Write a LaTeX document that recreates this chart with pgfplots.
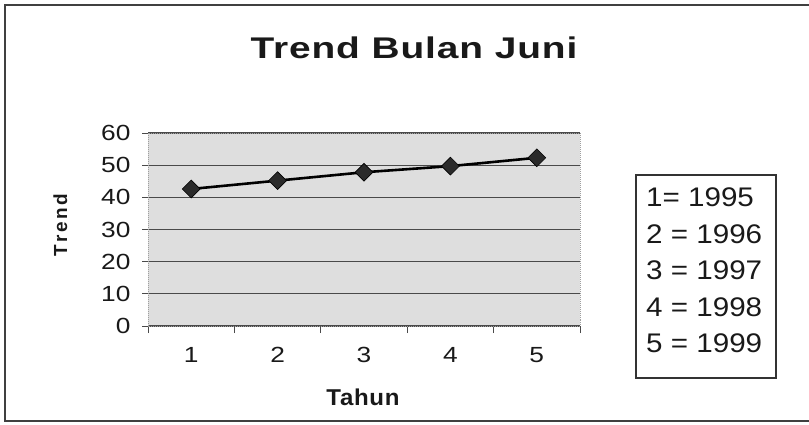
\documentclass[border=0pt]{standalone}
\usepackage{fontspec}
\setmainfont{Liberation Sans}
\newfontfamily\tickfont{Liberation Sans}[FakeStretch=1.2]
\newfontfamily\legfont{Liberation Sans}[FakeStretch=1.1]
\newfontfamily\titlefont{Liberation Sans}[FakeStretch=1.3,LetterSpace=3]
\newfontfamily\labfont{Liberation Sans}[FakeStretch=1.05,LetterSpace=3]
\newfontfamily\ylabfont{Liberation Sans}[LetterSpace=14]
\usepackage{pgfplots}
\pgfplotsset{compat=1.18}
\definecolor{bggray}{HTML}{DEDEDE}
\definecolor{gridgray}{HTML}{4A4A4A}
\definecolor{markgray}{HTML}{2A2A2A}
\begin{document}
\begin{tikzpicture}[x=1bp,y=1bp]
\useasboundingbox (0,0) rectangle (809,424);
\draw[line width=1.6bp, black!75] (812,419) -- (5,419) -- (5,3) -- (812,3);
\begin{axis}[
  at={(148bp,98bp)}, anchor=south west,
  scale only axis, width=432bp, height=193bp,
  xmin=0.5, xmax=5.5, ymin=0, ymax=60,
  xtick={1,2,3,4,5},
  minor xtick={0.5,1.5,2.5,3.5,4.5,5.5},
  ytick={0,10,...,60},
  tick pos=left, tick align=outside,
  major tick length=6bp, minor tick length=7bp,
  x tick style={draw=none},
  minor x tick style={draw=gridgray, line width=1bp},
  y tick style={draw=gridgray, line width=1bp},
  ymajorgrids,
  major grid style={draw=gridgray, line width=1.3bp},
  axis background/.style={fill=bggray},
  axis line style={draw=gray!75, line width=1bp, densely dotted},
  /pgf/number format/assume math mode=true,
  ticklabel style={font=\tickfont\fontsize{22}{26}\selectfont, text=black!90},
  xticklabel style={yshift=-12bp},
  yticklabel style={xshift=-8bp},
]
\addplot[draw=black, line width=2.6bp, mark=square*, mark size=6.3bp,
  mark options={rotate=45, fill=markgray, draw=black, line width=0.6bp}]
  coordinates {(1,42.6) (2,45.2) (3,47.8) (4,49.7) (5,52.3)};
\end{axis}
\node[anchor=base, inner sep=0, text=black!90] at (414,366)
  {\titlefont\bfseries\fontsize{30}{36}\selectfont Trend Bulan Juni};
\node[anchor=base, inner sep=0, text=black!90] at (363,19)
  {\labfont\bfseries\fontsize{23}{27}\selectfont Tahun};
\node[anchor=base, inner sep=0, rotate=90, text=black!90] at (67,199)
  {\ylabfont\bfseries\fontsize{19}{22}\selectfont Trend};
\draw[line width=1.6bp, black!80] (636,249) rectangle (776,46);
\foreach \t/\yy in {{1= 1995}/217.5, {2 = 1996}/180.5, {3 = 1997}/144.5, {4 = 1998}/107.5, {5 = 1999}/71.5}{
  \node[anchor=base west, inner sep=0, text=black!90] at (646,\yy)
    {\legfont\fontsize{27}{31}\selectfont \t};
}
\end{tikzpicture}
\end{document}
